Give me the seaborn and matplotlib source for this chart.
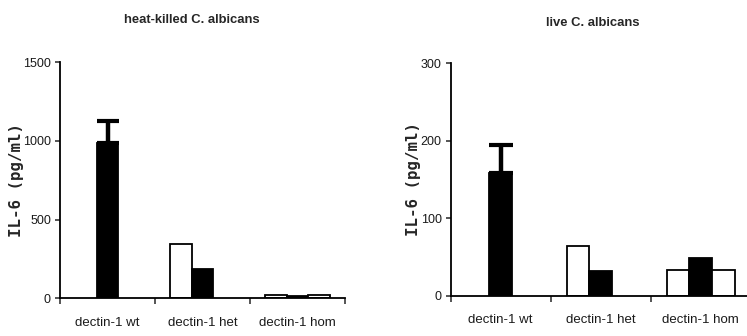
import matplotlib
matplotlib.use("Agg")
import matplotlib.pyplot as plt
import seaborn as sns
import pandas as pd
import numpy as np

# ---- data ----
categories = ["dectin-1 wt", "dectin-1 het", "dectin-1 hom"]
series = ["left", "middle", "right"]
heat_left = [np.nan, 345, 20]
heat_middle = [985, 185, 12]
heat_right = [np.nan, np.nan, 20]
heat_err_middle = [145, 0, 0]
live_left = [np.nan, 64, 33]
live_middle = [158, 32, 49]
live_right = [np.nan, np.nan, 33]
live_err_middle = [37, 0, 0]
heat_yticks = [0, 500, 1000, 1500]
live_yticks = [0, 100, 200, 300]
titles = ["heat-killed C. albicans", "live C. albicans"]
ylabel = "IL-6 (pg/ml)"

sns.set_theme(style="ticks")
base = ["Liberation Sans", "DejaVu Sans"]
plt.rcParams["font.family"] = base


def make_df(l, m, r):
    rows = []
    for vals, s in zip([l, m, r], series):
        for c, v in zip(categories, vals):
            rows.append({"cat": c, "series": s, "value": v})
    return pd.DataFrame(rows).dropna()


palette = {"left": "white", "middle": "black", "right": "white"}

fig = plt.figure(figsize=(7.47, 3.36), dpi=100)
W, H = 747, 336
# axes rects in pixels: x0, y_bottom, x1, y_top
rects = [(60, 298.3, 345, 62.3), (450.7, 295.7, 750.7, 63.3)]
datasets = [
    (make_df(heat_left, heat_middle, heat_right), heat_err_middle, heat_yticks, 7.6),
    (make_df(live_left, live_middle, live_right), live_err_middle, live_yticks, 8.4),
]
title_pos = [(192, 20), (593, 22.5)]
ylabel_x = [-0.126, -0.10]

for i, ((x0, yb, x1, yt), (df, errs, yticks, cap)) in enumerate(zip(rects, datasets)):
    ax = fig.add_axes([x0 / W, 1 - yb / H, (x1 - x0) / W, (yb - yt) / H])
    sns.barplot(data=df, x="cat", y="value", hue="series", order=categories,
                hue_order=series, palette=palette, edgecolor="black",
                linewidth=1.3, width=0.68, errorbar=None, legend=False,
                saturation=1, ax=ax)
    # error bars (upward only) on middle series (black bars)
    for p in ax.patches:
        if p.get_facecolor()[0] < 0.5:
            xc = p.get_x() + p.get_width() / 2
            ci = int(round(xc))
            e = errs[ci]
            if e > 0:
                ax.errorbar([xc], [p.get_height()], yerr=[[0], [e]], fmt="none",
                            ecolor="black", elinewidth=3.2, capsize=cap,
                            capthick=3, zorder=1)
    ax.set_xlim(-0.5, 2.5)
    ax.set_ylim(yticks[0], yticks[-1])
    ax.set_yticks(yticks)
    ax.set_yticklabels([str(t) for t in yticks], fontsize=9, color="#1a1a1a")
    ax.set_xticks(range(len(categories)))
    ax.set_xticklabels(categories, fontsize=9.5, color="#1a1a1a")
    ax.set_xticks([-0.5, 0.5, 1.5, 2.5], minor=True)
    ax.tick_params(axis="x", which="major", length=0, pad=13.5)
    ax.tick_params(axis="x", which="minor", length=4, width=1.1, direction="out")
    ax.tick_params(axis="y", length=3.5, width=1.1, pad=3)
    for s in ["top", "right"]:
        ax.spines[s].set_visible(False)
    for s in ["left", "bottom"]:
        ax.spines[s].set_linewidth(1.3)
        ax.spines[s].set_color("black")
    ax.set_xlabel("")
    ax.set_ylabel(ylabel, fontsize=11.3, fontweight="bold",
                  family=["DejaVu Sans Mono", "DejaVu Sans"])
    ax.yaxis.set_label_coords(ylabel_x[i], 0.5)
    ax.set_facecolor("none")
    tx, ty = title_pos[i]
    fig.text(tx / W, 1 - ty / H, titles[i], ha="center", va="center",
             fontsize=9.4, fontweight="bold", family=base)

fig.savefig("out.png", dpi=100)
